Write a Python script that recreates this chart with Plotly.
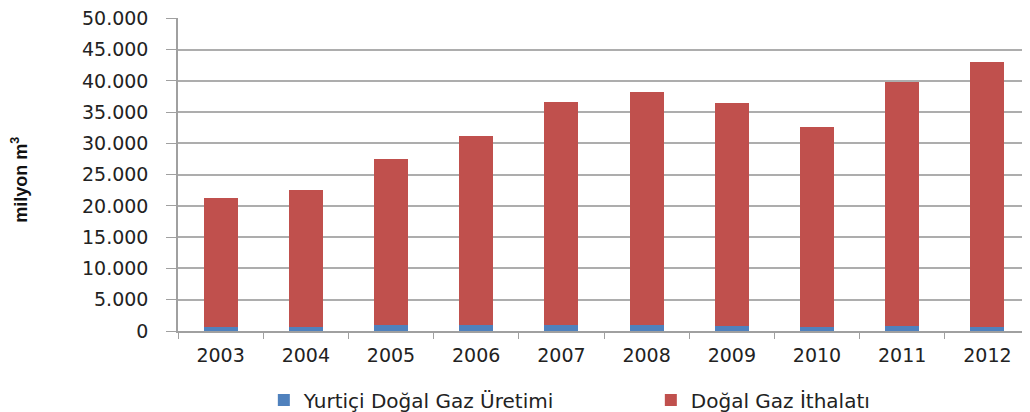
import plotly.graph_objs as go

# values (milyon m3)
years = ['2003', '2004', '2005', '2006', '2007', '2008', '2009', '2010', '2011', '2012']
uretim = [561, 708, 897, 907, 893, 1015, 729, 682, 759, 632]
ithalat = [20790, 21790, 26600, 30240, 35810, 37190, 35770, 31920, 39140, 42370]

font = "DejaVu Sans"

fig = go.Figure()

fig.add_trace(go.Bar(x=years, y=uretim, name='Yurtiçi Doğal Gaz Üretimi',
                     marker=dict(color='#4f81bd', line=dict(width=0)), width=0.4))
fig.add_trace(go.Bar(x=years, y=ithalat, name='Doğal Gaz İthalatı',
                     marker=dict(color='#c0504d', line=dict(width=0)), width=0.4))

# page body has an 8px margin, so the figure is a bit smaller than the window
fig.update_layout(
    width=1022, height=404,
    barmode='stack',
    separators=',.',
    plot_bgcolor='white', paper_bgcolor='white',
    margin=dict(l=170, r=0, t=10, b=81, autoexpand=False),
    font=dict(family=font, size=19, color='#222222'),
    showlegend=True,
    legend=dict(orientation='h', xref='container', yref='container',
                x=0.629, xanchor='center', y=0.03, yanchor='middle',
                font=dict(size=20), entrywidth=342,
                itemwidth=30, traceorder='normal'),
    annotations=[dict(text='<b>milyon m<sup>3</sup></b>', textangle=-90,
                      xref='paper', yref='paper', x=-0.1855, xanchor='center',
                      y=0.483, yanchor='middle',
                      showarrow=False, font=dict(family='Liberation Sans', size=18, color='#111111'))]
)

fig.update_yaxes(range=[0, 50060], tickvals=[i * 5000 for i in range(11)], tickformat=',d',
                 showgrid=True, gridcolor='#adadad', gridwidth=1.5,
                 showline=True, linecolor='#a0a0a0', linewidth=1.5,
                 ticks='outside', ticklen=10, tickcolor='#a0a0a0',
                 ticklabelstandoff=14, ticklabeloverflow='allow', zeroline=False)
fig.update_xaxes(type='category', tickson='boundaries', ticks='outside', ticklen=6,
                 tickcolor='#a0a0a0', showline=True, linecolor='#a0a0a0', linewidth=1.5,
                 ticklabelstandoff=6)

fig.write_html("out.html")
